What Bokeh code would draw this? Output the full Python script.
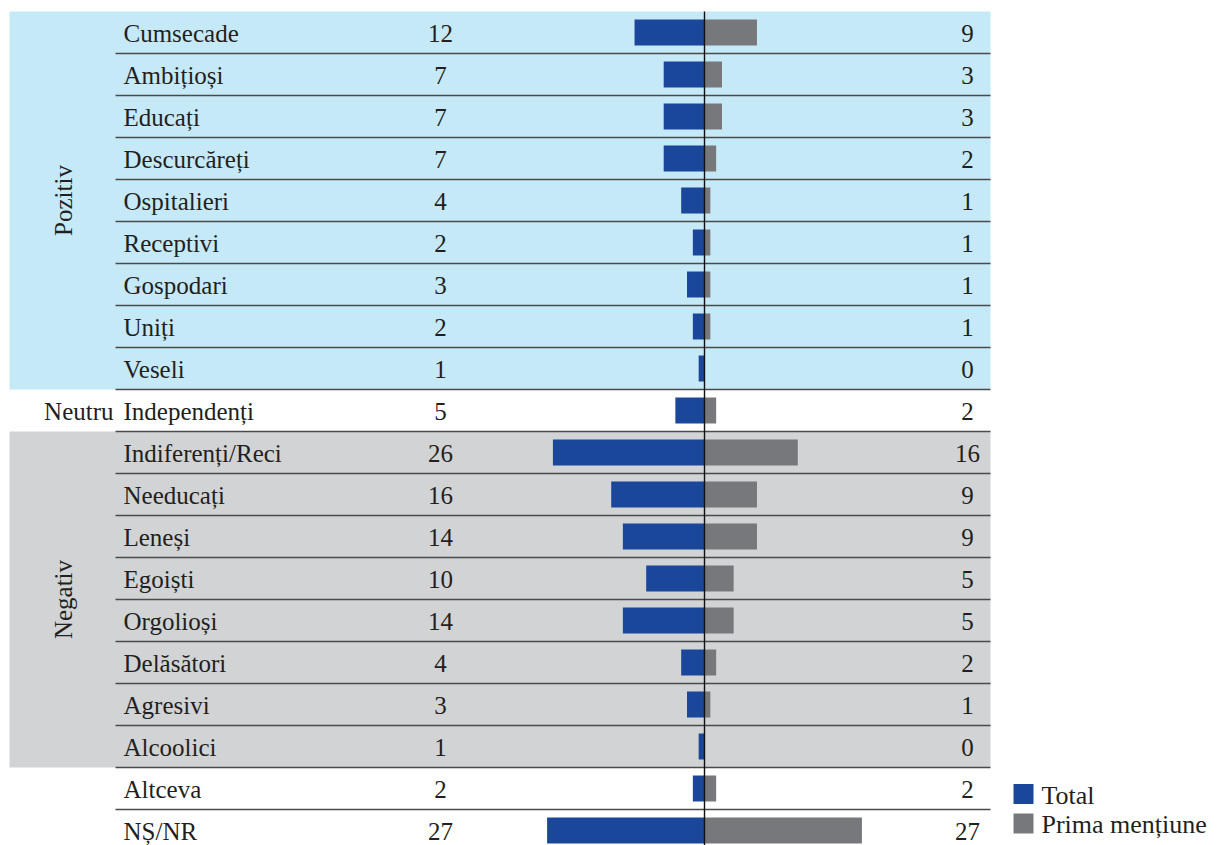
import math
from bokeh.plotting import figure
from bokeh.models import Range1d
from bokeh.core.properties import value
from bokeh.embed import file_html
from bokeh.resources import INLINE

# ---- data ----
categories = ["Cumsecade", "Ambițioși", "Educați", "Descurcăreți", "Ospitalieri",
              "Receptivi", "Gospodari", "Uniți", "Veseli", "Independenți",
              "Indiferenți/Reci", "Needucați", "Leneși", "Egoiști", "Orgolioși",
              "Delăsători", "Agresivi", "Alcoolici", "Altceva", "NȘ/NR"]
total = [12, 7, 7, 7, 4, 2, 3, 2, 1, 5, 26, 16, 14, 10, 14, 4, 3, 1, 2, 27]
prima = [9, 3, 3, 2, 1, 1, 1, 1, 0, 2, 16, 9, 9, 5, 5, 2, 1, 0, 2, 27]
groups = ["Pozitiv", "Neutru", "Negativ"]
group_first = [0, 9, 10]
group_last = [8, 9, 17]
series_names = ["Total", "Prima mențiune"]

# ---- layout ----
W, H = 1218, 845
PX_PER_UNIT = 5.83
X0 = 704.0          # pixel of value 0
ROW0 = 32.0         # pixel of first row centre
ROW_H = 42.0

def xd(px):
    return (px - X0) / PX_PER_UNIT

def yd(px):
    return (px - ROW0) / ROW_H

BLUE = "#1B479A"
GREY = "#77787B"
BAND_BLUE = "#C6E9F8"
BAND_GREY = "#D1D3D4"
TXT = "#231F20"
FONT = value("Liberation Serif")
FS = "25px"

p = figure(width=W, height=H, output_backend="svg", toolbar_location=None,
           x_range=Range1d(xd(0), xd(W)),
           y_range=Range1d(yd(H), yd(0)),
           x_axis_type=None, y_axis_type=None, min_border=0)
p.grid.visible = False
p.outline_line_color = None
p.background_fill_color = "white"
p.border_fill_color = "white"

rows = list(range(len(categories)))
band_left, band_right = xd(9), xd(990)

# group bands
p.quad(left=[band_left, band_left], right=[band_right, band_right],
       top=[group_first[0] - 0.5, group_first[2] - 0.5],
       bottom=[group_last[0] + 0.5, group_last[2] + 0.5],
       fill_color=[BAND_BLUE, BAND_GREY], line_color=None)

# row separators
sep_y = [r + 0.5 for r in rows[:-1]]
p.segment(x0=[xd(115)] * len(sep_y), x1=[band_right] * len(sep_y), y0=sep_y, y1=sep_y,
          line_color="#4A4A4A", line_width=1.4)

# bars
bh = 26 / ROW_H
p.hbar(y=rows, left=[-t for t in total], right=0, height=bh, fill_color=BLUE, line_color=None)
p.hbar(y=rows, left=0, right=prima, height=bh, fill_color=GREY, line_color=None)

# centre line
p.segment(x0=[0], x1=[0], y0=[-0.5], y1=[len(rows) + 0.5], line_color="#111111", line_width=1.4)

# texts
ty = [r + 1.0 / ROW_H for r in rows]
p.text(x=xd(123), y=ty, text=categories, text_font=FONT, text_font_size=FS,
       text_baseline="middle", text_align="left", text_color=TXT)
p.text(x=xd(440), y=ty, text=[str(v) for v in total], text_font=FONT, text_font_size=FS,
       text_baseline="middle", text_align="center", text_color=TXT)
p.text(x=xd(967), y=ty, text=[str(v) for v in prima], text_font=FONT, text_font_size=FS,
       text_baseline="middle", text_align="center", text_color=TXT)

# group labels
gy = [(a + b) / 2 for a, b in zip(group_first, group_last)]
p.text(x=[xd(63), xd(63)], y=[gy[0], gy[2]], text=[groups[0], groups[2]], angle=math.pi / 2,
       text_font=FONT, text_font_size=FS, text_baseline="middle", text_align="center",
       text_color=TXT)
p.text(x=[xd(113)], y=[gy[1] + 1.0 / ROW_H], text=[groups[1]], text_font=FONT,
       text_font_size=FS, text_baseline="middle", text_align="right", text_color=TXT)

# legend (manual)
sq_w = 20 / PX_PER_UNIT
sq_h = 20 / ROW_H
ly = [yd(793.5), yd(823)]
p.quad(left=[xd(1013)] * 2, right=[xd(1013) + sq_w] * 2,
       top=[y - sq_h / 2 for y in ly], bottom=[y + sq_h / 2 for y in ly],
       fill_color=[BLUE, GREY], line_color=None)
p.text(x=[xd(1041)] * 2, y=[y + 1.0 / ROW_H for y in ly], text=series_names, text_font=FONT,
       text_font_size="26px", text_baseline="middle", text_align="left", text_color=TXT)

open("out.html", "w").write(file_html(p, INLINE))
